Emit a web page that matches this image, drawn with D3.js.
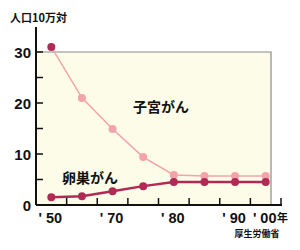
<!DOCTYPE html>
<html>
<head>
<meta charset="utf-8">
<script src="https://cdn.jsdelivr.net/npm/d3@7"></script>
<style>
  body { margin: 0; background: #fff; }
  svg { display: block; }
  .num { font-family: "Liberation Sans", Arial, sans-serif; font-weight: bold; fill: #111; }
  .jp { font-family: "Noto Sans CJK JP", sans-serif; fill: #111; }
</style>
</head>
<body>
<div id="chart"></div>
<script>
// data
const years = ["1950", "1960", "1970", "1975", "1980", "1985", "1990", "2000"];
const xTickLabels = ["' 50", "", "' 70", "", "' 80", "", "' 90", "' 00"];
const uterus = [31, 21, 14.9, 9.4, 5.9, 5.7, 5.7, 5.7];   // 子宮がん
const ovary = [1.5, 1.7, 2.7, 3.7, 4.5, 4.5, 4.5, 4.5];    // 卵巣がん
const yTicks = [0, 10, 20, 30];
const yMinorTicks = [5, 15, 25];

const width = 300, height = 250;
const dark = "#b02a55", light = "#f4a3ab";

const svg = d3.select("#chart").append("svg")
  .attr("width", width)
  .attr("height", height);

// scales
const x = d3.scaleBand().domain(years).range([36, 281]);
const y = d3.scaleLinear().domain([0, 30]).range([205, 52]);
const cx = d => x(d) + x.bandwidth() / 2;

// cream plot area with grey top/right edge
svg.append("rect")
  .attr("x", 36).attr("y", y(30))
  .attr("width", 271 - 36).attr("height", y(0) - y(30))
  .attr("fill", "#fcfce8");
svg.append("path")
  .attr("d", `M36,${y(30)}H271V${y(0)}`)
  .attr("fill", "none")
  .attr("stroke", "#8a8a8a")
  .attr("stroke-width", 1.2);

// y axis
svg.append("line")
  .attr("x1", 36).attr("x2", 36)
  .attr("y1", 27).attr("y2", y(0))
  .attr("stroke", "#111").attr("stroke-width", 2);
svg.selectAll(".ytick")
  .data(yTicks.concat(yMinorTicks))
  .enter().append("line")
  .attr("x1", 36).attr("x2", 43)
  .attr("y1", d => y(d)).attr("y2", d => y(d))
  .attr("stroke", "#111").attr("stroke-width", 1.5);
svg.selectAll(".ylab")
  .data(yTicks)
  .enter().append("text")
  .attr("class", "num")
  .attr("x", 31)
  .attr("y", d => y(d) + 5.5)
  .attr("text-anchor", "end")
  .style("font-size", "15px")
  .text(d => d);

svg.append("text")
  .attr("class", "jp")
  .attr("x", 10).attr("y", 22)
  .style("font-size", "11px")
  .style("font-weight", "bold")
  .text("人口10万対");

// x axis
svg.append("line")
  .attr("x1", 36).attr("x2", 282)
  .attr("y1", y(0)).attr("y2", y(0))
  .attr("stroke", "#111").attr("stroke-width", 2);
svg.selectAll(".xtick")
  .data(years.slice(1).concat(["end"]))
  .enter().append("line")
  .attr("x1", d => d === "end" ? x.range()[1] : x(d))
  .attr("x2", d => d === "end" ? x.range()[1] : x(d))
  .attr("y1", y(0)).attr("y2", y(0) - 7)
  .attr("stroke", "#111").attr("stroke-width", 1.5);
svg.selectAll(".xlab")
  .data(years.filter((d, i) => xTickLabels[i] !== ""))
  .enter().append("text")
  .attr("class", "num")
  .attr("x", d => cx(d) - 1)
  .attr("y", 223)
  .attr("text-anchor", "middle")
  .style("font-size", "14.5px")
  .text(d => xTickLabels[years.indexOf(d)]);
svg.append("text")
  .attr("class", "jp")
  .attr("x", 277).attr("y", 222)
  .style("font-size", "11px")
  .style("font-weight", "bold")
  .text("年");
svg.append("text")
  .attr("class", "jp")
  .attr("x", 257).attr("y", 237)
  .attr("text-anchor", "middle")
  .style("font-size", "9px")
  .style("font-weight", "bold")
  .text("厚生労働省");

// lines
const line = d3.line().x((d, i) => cx(years[i])).y(d => y(d));

svg.append("path")
  .datum(uterus)
  .attr("d", line)
  .attr("fill", "none")
  .attr("stroke", light)
  .attr("stroke-width", 1.5);
svg.selectAll(".pu")
  .data(uterus)
  .enter().append("circle")
  .attr("cx", (d, i) => cx(years[i]))
  .attr("cy", d => y(d))
  .attr("r", 4)
  .attr("fill", (d, i) => i === 0 ? dark : light);

svg.append("path")
  .datum(ovary)
  .attr("d", line)
  .attr("fill", "none")
  .attr("stroke", dark)
  .attr("stroke-width", 2.5);
svg.selectAll(".po")
  .data(ovary)
  .enter().append("circle")
  .attr("cx", (d, i) => cx(years[i]))
  .attr("cy", d => y(d))
  .attr("r", 4)
  .attr("fill", dark);

// series labels
svg.append("text")
  .attr("class", "jp")
  .attr("x", 133).attr("y", 112)
  .style("font-size", "14px")
  .style("font-weight", "bold")
  .text("子宮がん");
svg.append("text")
  .attr("class", "jp")
  .attr("x", 62).attr("y", 183)
  .style("font-size", "14px")
  .style("font-weight", "bold")
  .text("卵巣がん");
</script>
</body>
</html>
